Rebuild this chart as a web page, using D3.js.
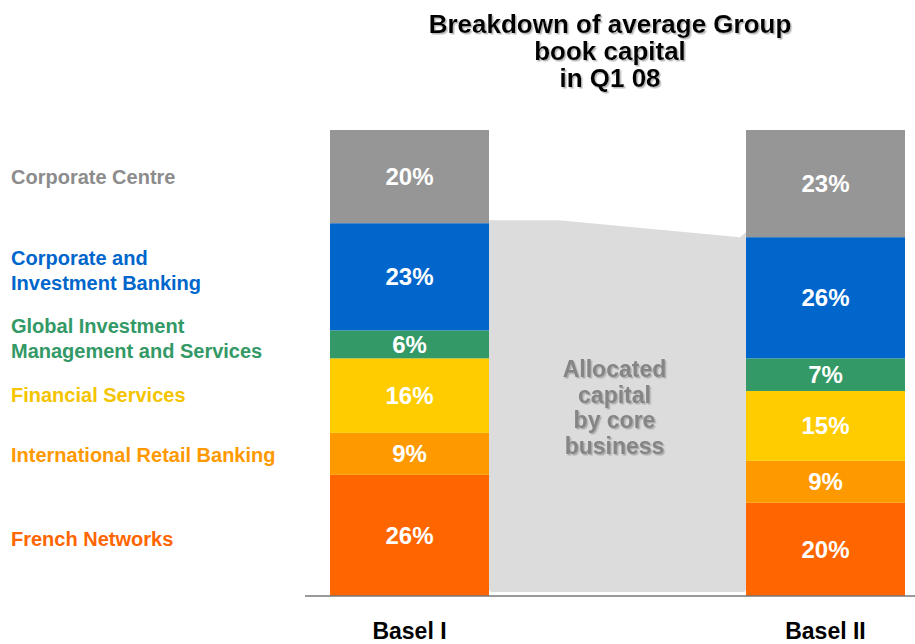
<!DOCTYPE html>
<html>
<head>
<meta charset="utf-8">
<script src="https://cdn.jsdelivr.net/npm/d3@7"></script>
<style>
  body { margin: 0; background: #fff; }
  svg { font-family: Arial, "Liberation Sans", sans-serif; font-weight: bold; }
</style>
</head>
<body>
<svg id="chart" width="915" height="644"></svg>
<script>
// segments, bottom to top
var businesses = ["French Networks", "International Retail Banking", "Financial Services",
  "Global Investment Management and Services", "Corporate and Investment Banking", "Corporate Centre"];
var legendLines = [["French Networks"], ["International Retail Banking"], ["Financial Services"],
  ["Global Investment", "Management and Services"], ["Corporate and", "Investment Banking"], ["Corporate Centre"]];
var regimes = ["Basel I", "Basel II"];
var baselI = [26, 9, 16, 6, 23, 20];
var baselII = [20, 9, 15, 7, 26, 23];
var colors = ["#FF6600", "#FF9900", "#FFCC00", "#339966", "#0066CC", "#969696"];
var labelColors = ["#FF6600", "#FF9900", "#F5C400", "#339966", "#0066CC", "#8C8C8C"];
var legendY = [539, 455, 395, 326, 258, 177];
var titleLines = ["Breakdown of average Group", "book capital", "in Q1 08"];
var noteLines = ["Allocated", "capital", "by core", "business"];

var svg = d3.select("#chart");

var defs = svg.append("defs");
var f = defs.append("filter").attr("id", "shadow").attr("x", "-10%").attr("y", "-10%")
  .attr("width", "130%").attr("height", "130%");
f.append("feDropShadow").attr("dx", 1.5).attr("dy", 1.5).attr("stdDeviation", 0.6)
  .attr("flood-color", "#999").attr("flood-opacity", 0.7);

var x = d3.scalePoint().domain(regimes).range([409.5, 825.5]);
var barW = 159;
var y = d3.scaleLinear().domain([0, 100]).range([596, 130]);

var table = regimes.map(function(r, i) {
  var vals = i === 0 ? baselI : baselII;
  var acc = 0;
  return vals.map(function(v, j) {
    var s = { regime: r, name: businesses[j], v: v, y0: acc, y1: acc + v, color: colors[j] };
    acc += v;
    return s;
  });
});

// allocated capital band between the bars (top = top of CIB)
var topI = d3.sum(baselI.slice(0, 5));
var topII = d3.sum(baselII.slice(0, 5));
var xl = x("Basel I") + barW / 2, xr = x("Basel II") - barW / 2;
var band = d3.path();
band.moveTo(xl, y(topI) - 3);
band.lineTo(xl + 70, y(topI) - 3);
band.lineTo(xr - 6, y(topII));
band.lineTo(xr, y(topII) - 5);
band.lineTo(xr, y(0) - 7);
band.quadraticCurveTo(xr, y(0) - 4, xr - 3, y(0) - 4);
band.lineTo(xl + 3, y(0) - 4);
band.quadraticCurveTo(xl, y(0) - 4, xl, y(0) - 7);
band.closePath();
svg.append("path").attr("d", band.toString()).attr("fill", "#DCDCDC");

svg.append("text").attr("text-anchor", "middle").attr("fill", "#858585")
  .attr("font-size", 23).attr("filter", "url(#shadow)")
  .selectAll("tspan").data(noteLines).enter().append("tspan")
  .attr("x", (xl + xr) / 2 - 3).attr("y", function(d, i) { return 377 + i * 25.5; })
  .text(function(d) { return d; });

// bars
var groups = svg.selectAll(".bar").data(table).enter().append("g").attr("class", "bar");
groups.selectAll("rect").data(function(d) { return d; }).enter().append("rect")
  .attr("x", function(d) { return x(d.regime) - barW / 2; })
  .attr("y", function(d) { return y(d.y1); })
  .attr("width", barW)
  .attr("height", function(d) { return y(d.y0) - y(d.y1); })
  .attr("fill", function(d) { return d.color; });
groups.selectAll("text").data(function(d) { return d; }).enter().append("text")
  .attr("x", function(d) { return x(d.regime); })
  .attr("y", function(d) { return (y(d.y0) + y(d.y1)) / 2 + 8.5; })
  .attr("text-anchor", "middle").attr("fill", "#fff").attr("font-size", 24)
  .text(function(d) { return d.v + "%"; });

// baseline
svg.append("line").attr("x1", 305).attr("x2", 915).attr("y1", y(0)).attr("y2", y(0))
  .attr("stroke", "#777").attr("stroke-width", 1.5);

// category labels
svg.selectAll(".cat").data(regimes).enter().append("text").attr("class", "cat")
  .attr("x", function(d) { return x(d); }).attr("y", 639)
  .attr("text-anchor", "middle").attr("font-size", 23).attr("fill", "#000")
  .text(function(d) { return d; });

// legend
svg.selectAll(".leg").data(legendLines).enter().append("text").attr("class", "leg")
  .attr("fill", function(d, i) { return labelColors[i]; }).attr("font-size", 20)
  .each(function(d, i) {
    d3.select(this).selectAll("tspan").data(d).enter().append("tspan")
      .attr("x", 11).attr("y", function(t, k) { return legendY[i] + 7 + k * 25; })
      .text(function(t) { return t; });
  });

// title
svg.append("text").attr("text-anchor", "middle").attr("font-size", 26).attr("fill", "#000")
  .attr("filter", "url(#shadow)")
  .selectAll("tspan").data(titleLines).enter().append("tspan")
  .attr("x", 610).attr("y", function(d, i) { return 33 + i * 26.8; })
  .text(function(d) { return d; });
</script>
</body>
</html>
